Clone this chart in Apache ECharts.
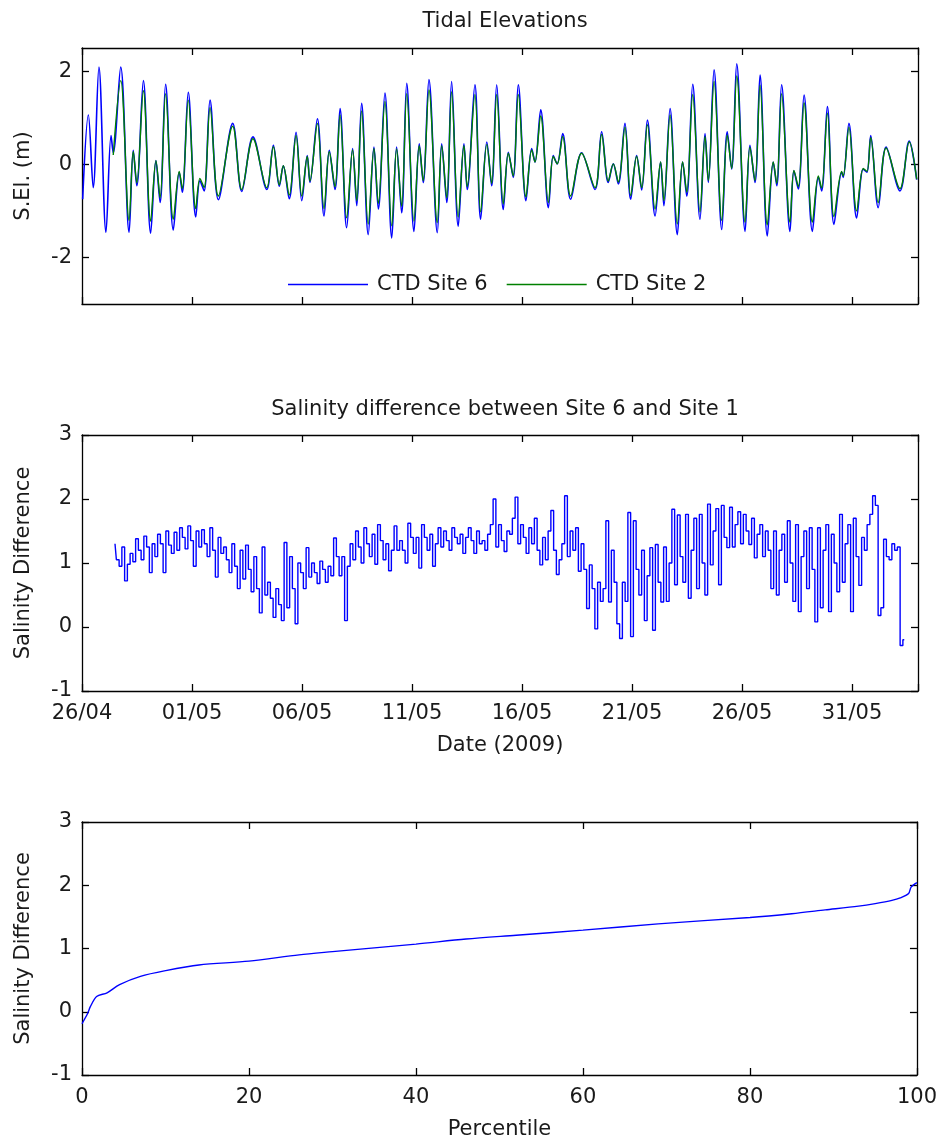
<!DOCTYPE html>
<html>
<head>
<meta charset="utf-8">
<script src="https://cdn.jsdelivr.net/npm/echarts@6/dist/echarts.min.js"></script>
<style>
  html, body { margin: 0; padding: 0; background: #fff; }
  #chart { width: 940px; height: 1142px; }
</style>
</head>
<body>
<div id="chart"></div>
<script>
// tidal high / low waters, days after 26/04/2009 00:00
const tideDays = [
  0.03, 0.29, 0.51, 0.77, 1.09, 1.32, 1.42, 1.76, 2.14, 2.33,
  2.49, 2.79, 3.12, 3.36, 3.55, 3.80, 4.15, 4.42, 4.56, 4.83,
  5.17, 5.36, 5.55, 5.82, 6.20, 6.85, 7.26, 7.77, 8.40, 8.70,
  8.97, 9.15, 9.42, 9.73, 9.99, 10.24, 10.36, 10.70, 11.00, 11.24,
  11.50, 11.73, 12.03, 12.30, 12.49, 12.71, 13.01, 13.27, 13.47, 13.77,
  14.08, 14.30, 14.53, 14.76, 15.09, 15.33, 15.51, 15.77, 16.15, 16.35,
  16.58, 16.80, 17.10, 17.36, 17.51, 17.86, 18.12, 18.40, 18.62, 18.85,
  19.15, 19.38, 19.60, 19.83, 20.18, 20.44, 20.59, 20.85, 21.20, 21.42,
  21.60, 21.85, 22.21, 22.71, 23.32, 23.62, 23.92, 24.15, 24.38, 24.68,
  24.94, 25.21, 25.44, 25.70, 26.05, 26.30, 26.45, 26.73, 27.06, 27.30,
  27.49, 27.76, 28.09, 28.32, 28.47, 28.73, 29.08, 29.33, 29.53, 29.76,
  30.14, 30.36, 30.59, 30.82, 31.15, 31.42, 31.58, 31.80, 32.18, 32.36,
  32.56, 32.82, 33.20, 33.47, 33.62, 33.88, 34.18, 34.53, 34.60, 34.86,
  35.21, 35.51, 35.68, 35.85, 36.19, 36.55, 37.18, 37.60, 37.94
];
// CTD Site 6 elevation (m)
const site6 = [
  -0.75, 1.06, -0.50, 2.09, -1.46, 0.62, 0.25, 2.09, -1.46, 0.30,
  -0.46, 1.80, -1.48, 0.08, -0.82, 1.72, -1.41, -0.17, -0.60, 1.55,
  -1.13, -0.35, -0.57, 1.38, -0.76, 0.88, -0.58, 0.59, -0.54, 0.41,
  -0.47, -0.03, -0.74, 0.69, -0.78, 0.19, -0.39, 0.98, -1.11, 0.30,
  -0.54, 1.20, -1.36, 0.34, -0.89, 1.31, -1.51, 0.37, -0.96, 1.53,
  -1.58, 0.37, -1.04, 1.74, -1.44, 0.44, -0.39, 1.82, -1.47, 0.44,
  -0.82, 1.78, -1.33, 0.44, -0.54, 1.71, -1.18, 0.48, -0.46, 1.71,
  -0.97, 0.26, -0.28, 1.71, -0.78, 0.34, 0.05, 1.17, -0.93, 0.19,
  0.01, 0.66, -0.75, 0.25, -0.54, 0.70, -0.39, 0.01, -0.42, 0.88,
  -0.75, 0.19, -0.55, 0.95, -1.11, 0.05, -0.89, 1.20, -1.51, 0.05,
  -0.68, 1.72, -1.18, 0.66, -0.39, 2.03, -1.40, 0.70, -0.10, 2.16,
  -1.44, 0.41, -0.39, 1.92, -1.54, 0.05, -0.46, 1.71, -1.44, -0.14,
  -0.53, 1.49, -1.44, -0.28, -0.57, 1.24, -1.29, -0.17, -0.28, 0.88,
  -1.15, -0.10, -0.17, 0.62, -0.93, 0.37, -0.57, 0.50, -0.33
];
// CTD Site 2 elevation (m), starts later
const site2 = [
  null, null, null, null, null, null, 0.20, 1.80, -1.20, 0.28,
  -0.40, 1.58, -1.22, 0.08, -0.72, 1.52, -1.18, -0.15, -0.52, 1.38,
  -0.95, -0.30, -0.50, 1.22, -0.68, 0.82, -0.54, 0.55, -0.50, 0.38,
  -0.44, -0.03, -0.66, 0.62, -0.68, 0.17, -0.36, 0.88, -0.95, 0.27,
  -0.48, 1.06, -1.15, 0.31, -0.78, 1.15, -1.28, 0.34, -0.84, 1.35,
  -1.32, 0.33, -0.90, 1.52, -1.22, 0.40, -0.35, 1.60, -1.25, 0.40,
  -0.72, 1.56, -1.13, 0.40, -0.48, 1.50, -1.02, 0.43, -0.41, 1.50,
  -0.85, 0.24, -0.25, 1.50, -0.70, 0.31, 0.05, 1.04, -0.82, 0.17,
  0.01, 0.60, -0.68, 0.24, -0.50, 0.64, -0.36, 0.01, -0.38, 0.80,
  -0.67, 0.17, -0.50, 0.85, -0.96, 0.05, -0.78, 1.06, -1.28, 0.05,
  -0.60, 1.50, -1.02, 0.60, -0.35, 1.78, -1.20, 0.63, -0.09, 1.90,
  -1.24, 0.37, -0.35, 1.70, -1.30, 0.05, -0.41, 1.52, -1.24, -0.13,
  -0.48, 1.32, -1.24, -0.25, -0.51, 1.10, -1.12, -0.15, -0.25, 0.80,
  -1.00, -0.09, -0.15, 0.58, -0.82, 0.35, -0.52, 0.48, -0.32
];

// salinity difference, 3-hourly from day 1.5 (27/04 12:00), one row per day
const salStartDay = 1.5;
const salStepHours = 3;
const salDiff = [
  1.30, 1.05, 0.95, 1.25, 0.72, 0.98, 1.15, 1.02,
  1.38, 1.20, 1.05, 1.42, 1.25, 0.85, 1.30, 1.10,
  1.45, 1.30, 0.85, 1.50, 1.28, 1.15, 1.48, 1.20,
  1.55, 1.40, 1.22, 1.58, 1.35, 0.95, 1.50, 1.25,
  1.52, 1.30, 1.10, 1.55, 1.20, 0.78, 1.40, 1.15,
  1.25, 1.05, 0.85, 1.30, 0.95, 0.60, 1.20, 0.75,
  1.28, 0.90, 0.55, 1.10, 0.60, 0.22, 1.25, 0.50,
  0.70, 0.45, 0.15, 0.60, 0.35, 0.10, 1.32, 0.30,
  1.10, 0.60, 0.05, 1.00, 0.85, 0.60, 1.24, 0.78,
  1.00, 0.85, 0.68, 1.03, 0.90, 0.70, 0.95, 0.80,
  1.39, 1.10, 0.80, 1.10, 0.10, 0.95, 1.30, 1.05,
  1.50, 1.25, 1.00, 1.55, 1.30, 1.10, 1.45, 0.98,
  1.60, 1.35, 1.05, 1.30, 0.88, 1.20, 1.58, 1.20,
  1.35, 1.20, 1.00, 1.62, 1.40, 1.15, 1.40, 0.92,
  1.60, 1.40, 1.20, 1.45, 0.95, 1.30, 1.55, 1.25,
  1.50, 1.35, 1.20, 1.55, 1.40, 1.30, 1.45, 1.15,
  1.40, 1.55, 1.35, 1.15, 1.50, 1.30, 1.35, 1.20,
  1.45, 1.60, 2.00, 1.25, 1.60, 1.35, 1.18, 1.50,
  1.45, 1.70, 2.03, 1.30, 1.60, 1.40, 1.15, 1.55,
  1.30, 1.70, 1.20, 0.97, 1.40, 1.05, 1.50, 1.82,
  1.20, 0.82, 1.05, 1.30, 2.05, 1.10, 1.50, 1.20,
  1.55, 0.87, 1.30, 0.90, 0.29, 0.97, 0.60, -0.03,
  0.70, 0.40, 0.60, 1.66, 0.39, 1.20, 0.70, 0.05,
  -0.18, 0.70, 0.40, 1.79, -0.15, 1.66, 0.90, 0.50,
  1.20, 0.10, 0.80, 1.24, -0.05, 1.29, 0.70, 0.39,
  1.25, 0.40, 1.00, 1.84, 0.66, 1.75, 1.10, 0.70,
  1.76, 0.45, 1.20, 1.70, 0.60, 1.76, 1.00, 0.50,
  1.92, 0.97, 1.50, 1.85, 0.66, 1.90, 1.40, 1.24,
  1.87, 1.25, 1.60, 1.80, 1.30, 1.76, 1.50, 1.29,
  1.70, 1.08, 1.45, 1.60, 1.10, 1.50, 1.20, 0.60,
  1.50, 0.50, 1.20, 1.45, 0.70, 1.66, 1.00, 0.40,
  1.60, 0.24, 1.10, 1.50, 0.60, 1.55, 0.90, 0.08,
  1.55, 0.30, 1.20, 1.60, 0.24, 1.45, 1.00, 0.55,
  1.76, 0.70, 1.30, 1.60, 0.24, 1.70, 1.10, 0.65,
  1.40, 1.20, 1.60, 1.76, 2.05, 1.90, 0.18, 0.30,
  1.37, 1.10, 1.05, 1.30, 1.20, 1.25, -0.29, -0.20
];

// sorted salinity difference vs percentile
const percentiles = [0, 0.7, 1, 1.75, 3, 4.5, 7, 10, 14, 20, 26, 30, 40, 46, 52, 60, 69, 80, 85, 89, 93, 95, 97, 98, 99, 99.3, 100];
const salSorted = [-0.19, -0.02, 0.08, 0.24, 0.30, 0.43, 0.56, 0.65, 0.74, 0.80, 0.90, 0.95, 1.07, 1.15, 1.21, 1.29, 1.39, 1.49, 1.55, 1.61, 1.67, 1.71, 1.76, 1.80, 1.87, 1.97, 2.04];

const dateTicks = ['26/04', '01/05', '06/05', '11/05', '16/05', '21/05', '26/05', '31/05'];

const FONT = 'DejaVu Sans';
const TXT = '#1a1a1a';

function pairs(xs, ys) {
  const out = [];
  for (let i = 0; i < Math.min(xs.length, ys.length); i++) {
    if (ys[i] !== null) out.push([xs[i], ys[i]]);
  }
  return out;
}
const salData = salDiff.map((v, i) => [salStartDay + i * salStepHours / 24, v]);

const axLine = { show: true, onZero: false, lineStyle: { color: '#000', width: 1.3 } };
const axTick = { show: true, inside: true, length: 7, lineStyle: { color: '#000', width: 1.3 } };
const lbl = { fontFamily: FONT, fontSize: 21, color: TXT };

function makeAxis(grid, pos, min, max, interval, extra) {
  return Object.assign({
    type: 'value', gridIndex: grid, position: pos, min: min, max: max, interval: interval,
    axisLine: axLine, axisTick: axTick, splitLine: { show: false },
    axisLabel: { show: false }
  }, extra || {});
}

const dateLabel = {
  show: true, margin: 12, ...lbl,
  formatter: function (v) { return v % 5 === 0 && dateTicks[v / 5] ? dateTicks[v / 5] : ''; }
};
const tideTicks = Object.assign({}, axTick, { customValues: [-2, 0, 2] });

const myChart = echarts.init(document.getElementById('chart'));
myChart.setOption({
  animation: false,
  backgroundColor: '#fff',
  title: [
    { text: 'Tidal Elevations', left: 500, top: 6, textAlign: 'center',
      textStyle: { fontFamily: FONT, fontSize: 21, fontWeight: 'normal', color: TXT } },
    { text: 'Salinity difference between Site 6 and Site 1', left: 500, top: 394, textAlign: 'center',
      textStyle: { fontFamily: FONT, fontSize: 21, fontWeight: 'normal', color: TXT } }
  ],
  legend: {
    left: 283, top: 269, icon: 'rect', itemWidth: 80, itemHeight: 1.5, itemGap: 19,
    textStyle: { fontFamily: FONT, fontSize: 21, color: TXT, padding: [0, 0, 0, 4] },
    data: ['CTD Site 6', 'CTD Site 2']
  },
  grid: [
    { left: 82, right: 22, top: 48, height: 256 },
    { left: 82, right: 22, top: 435, height: 256 },
    { left: 82, right: 22, top: 822, height: 253 }
  ],
  xAxis: [
    makeAxis(0, 'bottom', 0, 38, 5),
    makeAxis(0, 'top', 0, 38, 5),
    makeAxis(1, 'bottom', 0, 38, 5, {
      axisLabel: dateLabel,
      name: 'Date (2009)', nameLocation: 'middle', nameGap: 44, nameTextStyle: lbl
    }),
    makeAxis(1, 'top', 0, 38, 5),
    makeAxis(2, 'bottom', 0, 100, 20, {
      axisLabel: { show: true, margin: 12, ...lbl },
      name: 'Percentile', nameLocation: 'middle', nameGap: 44, nameTextStyle: lbl
    }),
    makeAxis(2, 'top', 0, 100, 20)
  ],
  yAxis: [
    makeAxis(0, 'left', -3, 2.5, 1, {
      axisTick: tideTicks,
      axisLabel: { show: true, margin: 10, customValues: [-2, 0, 2], ...lbl },
      name: 'S.El. (m)', nameLocation: 'middle', nameGap: 48, nameTextStyle: lbl
    }),
    makeAxis(0, 'right', -3, 2.5, 1, { axisTick: tideTicks }),
    makeAxis(1, 'left', -1, 3, 1, {
      axisLabel: { show: true, margin: 10, ...lbl },
      name: 'Salinity Difference', nameLocation: 'middle', nameGap: 48, nameTextStyle: lbl
    }),
    makeAxis(1, 'right', -1, 3, 1),
    makeAxis(2, 'left', -1, 3, 1, {
      axisLabel: { show: true, margin: 10, ...lbl },
      name: 'Salinity Difference', nameLocation: 'middle', nameGap: 48, nameTextStyle: lbl
    }),
    makeAxis(2, 'right', -1, 3, 1)
  ],
  series: [
    { name: 'CTD Site 6', type: 'line', xAxisIndex: 0, yAxisIndex: 0, symbol: 'none',
      smooth: 0.35, lineStyle: { color: '#0000ff', width: 1.6 }, itemStyle: { color: '#0000ff' },
      data: pairs(tideDays, site6) },
    { name: 'CTD Site 2', type: 'line', xAxisIndex: 0, yAxisIndex: 0, symbol: 'none',
      smooth: 0.35, lineStyle: { color: '#008000', width: 1.4 }, itemStyle: { color: '#008000' },
      data: pairs(tideDays, site2) },
    { name: 'salinity', type: 'line', xAxisIndex: 2, yAxisIndex: 2, symbol: 'none', step: 'middle',
      lineStyle: { color: '#0000ff', width: 1.4 }, data: salData },
    { name: 'percentile', type: 'line', xAxisIndex: 4, yAxisIndex: 4, symbol: 'none', smooth: 0.3,
      lineStyle: { color: '#0000ff', width: 1.4 }, data: pairs(percentiles, salSorted) }
  ]
});
</script>
</body>
</html>
